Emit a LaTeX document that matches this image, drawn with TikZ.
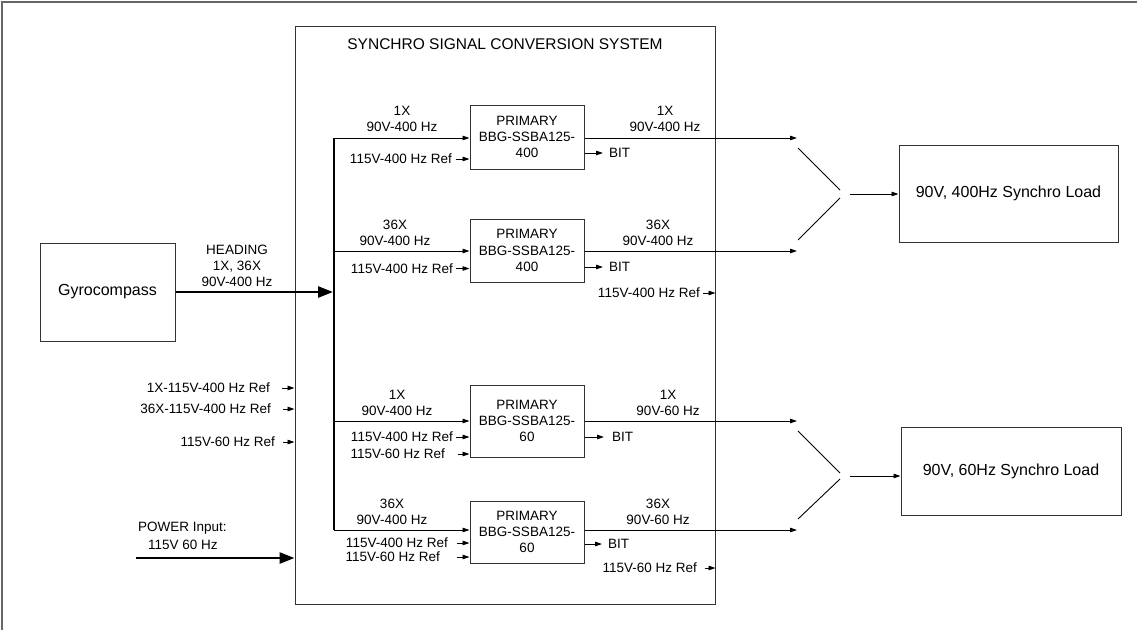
\documentclass[tikz,border=0pt]{standalone}
\usepackage{fontspec}
\setmainfont{Liberation Sans}
\usetikzlibrary{arrows.meta}
\begin{document}
\begin{tikzpicture}[x=1pt,y=-1pt,
  box/.style={draw=black!80, line width=1pt, inner sep=0pt, align=center},
  lbl/.style={inner sep=0pt, align=center, font=\fontsize{13.5}{16}\selectfont},
  big/.style={font=\fontsize{16}{19}\selectfont},
  prim/.style={box, minimum width=114, font=\fontsize{13.5}{16.3}\selectfont},
  wire/.style={line width=0.9pt, -{Triangle[length=7pt,width=4.5pt]}},
  plain/.style={line width=0.9pt},
  bus/.style={line width=2.6pt},
  fatarrow/.style={line width=2.6pt, -{Triangle[length=15pt,width=11pt]}}]
\useasboundingbox (0,0) rectangle (1137,630);
% outer frame (top and left edges only)
\draw[line width=1.5pt, black!60] (2,630) -- (2,2) -- (1137,2);

% system box and title
\node[box, minimum width=420, minimum height=578] (sys) at (505,315) {};
\node[lbl, font=\fontsize{15.5}{18}\selectfont] (title) at (505,44) {SYNCHRO SIGNAL CONVERSION SYSTEM};

% gyrocompass
\node[box, big, minimum width=135, minimum height=98] (gyro) at (107.5,292) {Gyrocompass};
\node[lbl] (head) at (237,266) {HEADING\\1X, 36X\\90V-400 Hz};
\coordinate (hm) at (333,292);
\draw[fatarrow] (gyro.east) -- (hm);

% primary boxes
\node[prim, minimum height=64] (p1) at (527,137) {PRIMARY\\BBG-SSBA125-\\400};
\node[prim, minimum height=63] (p2) at (527,250.5) {PRIMARY\\BBG-SSBA125-\\400};
\node[prim, minimum height=72] (p3) at (527,421) {PRIMARY\\BBG-SSBA125-\\60};
\node[prim, minimum height=62] (p4) at (527,532) {PRIMARY\\BBG-SSBA125-\\60};

% bus and inputs
\coordinate (i1) at (334,138);
\coordinate (i2) at (334,251);
\coordinate (i3) at (334,421);
\coordinate (i4) at (334,530);
\draw[bus] (i1) -- (i4);
\draw[wire] (i1) -- (i1 -| p1.west);
\draw[wire] (i2) -- (i2 -| p2.west);
\draw[wire] (i3) -- (i3 -| p3.west);
\draw[wire] (i4) -- (i4 -| p4.west);

\node[lbl] (in1) at (402,119) {1X\\90V-400 Hz};
\node[lbl] (in2) at (395,233) {36X\\90V-400 Hz};
\node[lbl] (in3) at (397,403) {1X\\90V-400 Hz};
\node[lbl] (in4) at (392,511.5) {36X\\90V-400 Hz};

% reference inputs to primaries
\node[lbl, anchor=east] (r1) at (452,159) {115V-400 Hz Ref};
\coordinate (cr1) at (456,159);
\draw[wire] (cr1) -- (cr1 -| p1.west);
\node[lbl, anchor=east] (r2) at (453,268.5) {115V-400 Hz Ref};
\coordinate (cr2) at (456,268.5);
\draw[wire] (cr2) -- (cr2 -| p2.west);
\node[lbl, anchor=east] (r3a) at (453,437) {115V-400 Hz Ref};
\coordinate (cr3a) at (456,437);
\draw[wire] (cr3a) -- (cr3a -| p3.west);
\node[lbl, anchor=east] (r3b) at (445,454) {115V-60 Hz Ref};
\coordinate (cr3b) at (458,454);
\draw[wire] (cr3b) -- (cr3b -| p3.west);
\node[lbl, anchor=east] (r4a) at (448,543) {115V-400 Hz Ref};
\coordinate (cr4a) at (457,543);
\draw[wire] (cr4a) -- (cr4a -| p4.west);
\node[lbl, anchor=east] (r4b) at (440,557) {115V-60 Hz Ref};
\coordinate (cr4b) at (457,557);
\draw[wire] (cr4b) -- (cr4b -| p4.west);

% outputs
\coordinate (o1) at (797,138);
\coordinate (o2) at (797,251);
\coordinate (o3) at (797,421);
\coordinate (o4) at (797,530);
\draw[wire] (o1 -| p1.east) -- (o1);
\draw[wire] (o2 -| p2.east) -- (o2);
\draw[wire] (o3 -| p3.east) -- (o3);
\draw[wire] (o4 -| p4.east) -- (o4);
\node[lbl] (out1) at (665,118.5) {1X\\90V-400 Hz};
\node[lbl] (out2) at (658,232.5) {36X\\90V-400 Hz};
\node[lbl] (out3) at (668,403) {1X\\90V-60 Hz};
\node[lbl] (out4) at (658,511.5) {36X\\90V-60 Hz};

% BIT outputs
\node[lbl, anchor=west] (bit1) at (609,153) {BIT};
\draw[wire] (bit1.west -| p1.east) -- ([xshift=-6pt]bit1.west);
\node[lbl, anchor=west] (bit2) at (609,267) {BIT};
\draw[wire] (bit2.west -| p2.east) -- ([xshift=-6pt]bit2.west);
\node[lbl, anchor=west] (bit3) at (612,437) {BIT};
\draw[wire] (bit3.west -| p3.east) -- ([xshift=-8pt]bit3.west);
\node[lbl, anchor=west] (bit4) at (608,544) {BIT};
\draw[wire] (bit4.west -| p4.east) -- ([xshift=-6pt]bit4.west);

% references into right wall
\node[lbl, anchor=east] (rr1) at (700,293) {115V-400 Hz Ref};
\coordinate (crr1) at (703,293);
\draw[wire] (crr1) -- (crr1 -| sys.east);
\node[lbl, anchor=east] (rr2) at (697,568) {115V-60 Hz Ref};
\coordinate (crr2) at (705,568);
\draw[wire] (crr2) -- (crr2 -| sys.east);

% references into left wall
\node[lbl, anchor=east] (l1) at (270,388) {1X-115V-400 Hz Ref};
\coordinate (cl1) at (282,388);
\draw[wire] (cl1) -- (cl1 -| sys.west);
\node[lbl, anchor=east] (l2) at (271,409) {36X-115V-400 Hz Ref};
\coordinate (cl2) at (283,409);
\draw[wire] (cl2) -- (cl2 -| sys.west);
\node[lbl, anchor=east] (l3) at (275,442) {115V-60 Hz Ref};
\coordinate (cl3) at (283,442);
\draw[wire] (cl3) -- (cl3 -| sys.west);

% power input
\node[lbl, anchor=west] (pw1) at (138,528) {POWER Input:};
\node[lbl, anchor=west] (pw2) at (148,545) {115V 60 Hz};
\coordinate (pw) at (136,558);
\draw[fatarrow] (pw) -- (pw -| sys.west);

% loads
\node[box, big, minimum width=219, minimum height=97] (load1) at (1008.5,193.5) {90V, 400Hz Synchro Load};
\node[box, big, minimum width=220, minimum height=88] (load2) at (1011,471) {90V, 60Hz Synchro Load};

% switches
\coordinate (s1a) at (798,148);
\coordinate (s1b) at (840,190);
\coordinate (s1c) at (840,198);
\coordinate (s1d) at (798,240);
\coordinate (s1o) at (850,194);
\draw[plain] (s1a) -- (s1b);
\draw[plain] (s1c) -- (s1d);
\draw[wire] (s1o) -- (s1o -| load1.west);

\coordinate (s2a) at (798,431);
\coordinate (s2b) at (840,473);
\coordinate (s2c) at (840,479);
\coordinate (s2d) at (798,519);
\coordinate (s2o) at (850,476);
\draw[plain] (s2a) -- (s2b);
\draw[plain] (s2c) -- (s2d);
\draw[wire] (s2o) -- (s2o -| load2.west);
\end{tikzpicture}
\end{document}
